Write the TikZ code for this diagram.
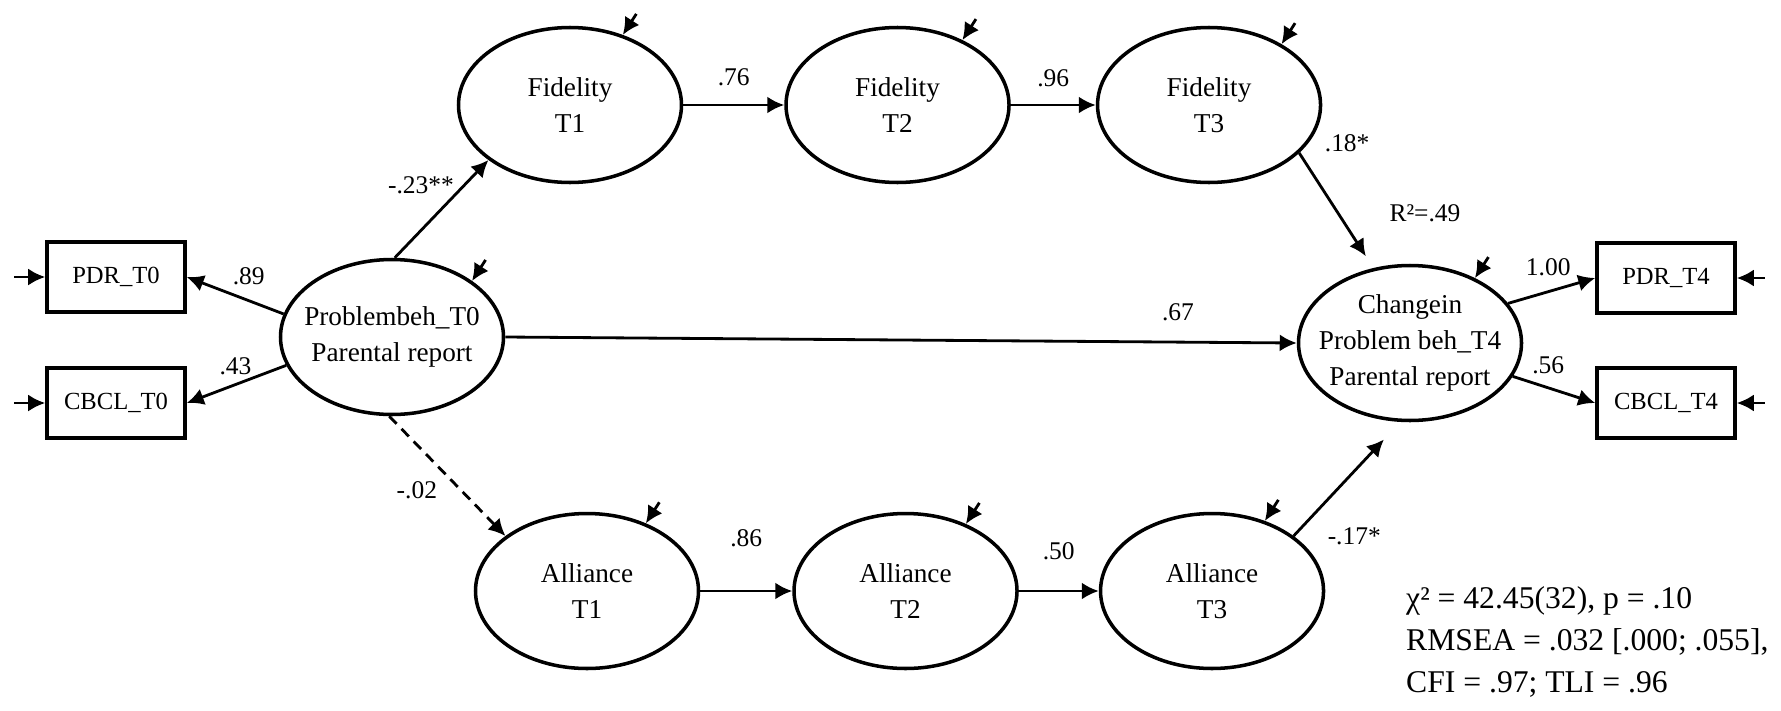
\documentclass[tikz,border=0pt]{standalone}
\usepackage{fontspec}
\setmainfont{Liberation Serif}
\usetikzlibrary{arrows.meta,positioning,shapes.geometric}

\begin{document}
\begin{tikzpicture}[
  node distance=2cm,
  latent/.style={draw, ellipse, line width=2pt, minimum width=4.46cm, minimum height=3.1cm, inner xsep=-0.3cm, inner ysep=0pt, align=center, font=\fontsize{15.5}{20.5}\selectfont},
  observed/.style={draw, rectangle, line width=2pt, minimum width=2.76cm, minimum height=1.4cm, font=\fontsize{14}{17}\selectfont},
  coef/.style={font=\fontsize{14.5}{17}\selectfont, inner sep=1pt},
  effect/.style={->, line width=1.6pt},
  >={Latex[length=0.34cm, width=0.34cm]}
]
\useasboundingbox (0,0) rectangle (35.62,-14.2);

\node[latent] (P0) at (7.84,-6.74) {Problembeh\_T0\\Parental report};
\node[latent] (F1) at (11.4,-2.1) {Fidelity\\T1};
\node[latent, right=2.02cm of F1] (F2) {Fidelity\\T2};
\node[latent, right=1.7cm of F2] (F3) {Fidelity\\T3};
\node[latent] (A1) at (11.74,-11.82) {Alliance\\T1};
\node[latent, right=1.84cm of A1] (A2) {Alliance\\T2};
\node[latent, right=1.6cm of A2] (A3) {Alliance\\T3};
\node[latent] (C4) at (28.2,-6.86) {Changein\\Problem beh\_T4\\Parental report};

\node[observed] (PDR0) at (2.32,-5.54) {PDR\_T0};
\node[observed] (CBCL0) at (2.32,-8.06) {CBCL\_T0};
\node[observed] (PDR4) at (33.32,-5.56) {PDR\_T4};
\node[observed] (CBCL4) at (33.32,-8.06) {CBCL\_T4};

\node[coef] (r2) at (28.5,-4.26) {R²=.49};
\node[anchor=west, align=left, font=\fontsize{18}{23.9}\selectfont] (fit) at (28.0,-12.84)
  {χ² = 42.45(32), p = .10\\RMSEA = .032 [.000; .055],\\CFI = .97; TLI = .96};

% measurement part
\draw[effect] (P0.168) -- node[coef, above=0.26cm, pos=.36] {.89} (PDR0.east);
\draw[effect] (P0.195) -- node[coef, above=0.14cm, pos=.51] {.43} (CBCL0.east);
\draw[effect] (C4.22) -- node[coef, above=0.26cm, pos=.46] {1.00} (PDR4.west);
\draw[effect] (C4.-18) -- node[coef, above=0.22cm, pos=.43] {.56} (CBCL4.west);
\foreach \n in {PDR0,CBCL0}
  \draw[effect] ([xshift=-0.62cm]\n.west) -- (\n.west);
\foreach \n in {PDR4,CBCL4}
  \draw[effect] ([xshift=0.56cm]\n.east) -- (\n.east);

% structural part
\draw[effect] (P0.88) -- node[coef, left=4pt, pos=.74] {-.23**} (F1.214);
\draw[effect, dash pattern=on 6pt off 4pt] (P0.268) -- node[coef, left=12pt, pos=.62] {-.02} (A1.146);
\draw[effect] (P0.east) -- node[coef, above=0.36cm, pos=.85] {.67} (C4.west);
\draw[effect] (F1.east) -- node[coef, above=0.32cm] {.76} (F2.west);
\draw[effect] (F2.east) -- node[coef, above=0.3cm] {.96} (F3.west);
\draw[effect] (A1.east) -- node[coef, above=0.82cm] {.86} (A2.west);
\draw[effect] (A2.east) -- node[coef, above=0.56cm] {.50} (A3.west);
\draw[effect, shorten >=0.28cm] (F3.-28) -- node[coef, pos=0, anchor=west, xshift=0.45cm, yshift=0.2cm] {.18*} (C4.116);
\draw[effect, shorten >=0.48cm] (A3.34) -- node[coef, pos=0, anchor=west, xshift=0.62cm] {-.17*} (C4.263);

% residuals
\foreach \n/\a in {P0/35,F1/53,F2/45,F3/40,A1/49,A2/48,A3/53,C4/45}
  \draw[effect, <-] (\n.\a) -- ++(0.27,0.42);
\end{tikzpicture}
\end{document}
